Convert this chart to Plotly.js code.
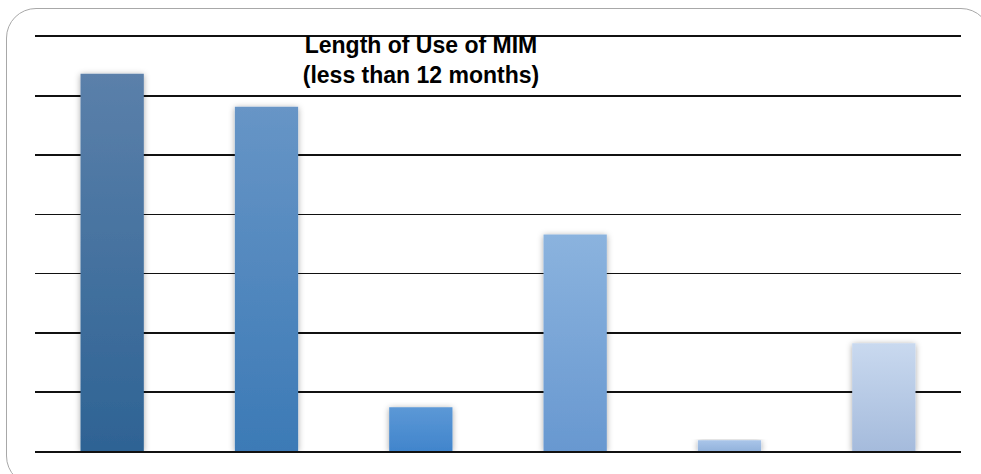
<!DOCTYPE html>
<html>
<head>
<meta charset="utf-8">
<script src="https://cdn.plot.ly/plotly-3.0.1.min.js"></script>
<style>
html,body{margin:0;padding:0;background:#fff;overflow:hidden;width:981px;height:474px;}
#frame{position:absolute;left:6px;top:8px;width:985px;height:478px;border:1.5px solid #a8a8a8;border-radius:30px;box-sizing:border-box;}
#chart{position:absolute;left:0;top:0;width:981px;height:474px;}
</style>
</head>
<body>
<div id="frame"></div>
<div id="chart"></div>
<script>
// Data (no axis labels are shown in the original)
const categories = ["Cat 1", "Cat 2", "Cat 3", "Cat 4", "Cat 5", "Cat 6"];
const values = [31.9, 29.1, 3.7, 18.3, 0.9, 9.1];
const topColors = ["#5b80aa", "#6795c6", "#5c98d6", "#8bb3de", "#a9c5e9", "#c9d9ef"];
const bottomColors = ["#2e6394", "#3c7ab6", "#4185cc", "#6898d0", "#93b3dc", "#a5bbdc"];
const midColors = ["#44709f", "#5187be", "#4e8ed1", "#79a5d7", "#9ebce2", "#b7cae5"];

const trace = {
  type: "bar",
  x: categories,
  y: values,
  marker: { color: midColors, line: { width: 0 } },
  hoverinfo: "x+y"
};

const layout = {
  width: 981,
  height: 474,
  margin: { l: 35, r: 20, t: 37, b: 23, pad: 0 },
  paper_bgcolor: "rgba(0,0,0,0)",
  plot_bgcolor: "rgba(0,0,0,0)",
  bargap: 0.59,
  showlegend: false,
  title: {
    text: "<b>Length of Use of MIM<br>(less than 12 months)</b>",
    font: { family: "Liberation Sans, Arial, sans-serif", size: 23, color: "#000" },
    xref: "container", yref: "container",
    x: 421 / 981, xanchor: "center",
    y: 1 - 53 / 474, yanchor: "middle"
  },
  xaxis: {
    showticklabels: false, ticks: "", showgrid: false, zeroline: false,
    showline: true, mirror: true, linecolor: "#111", linewidth: 1.6
  },
  yaxis: {
    range: [0, 35], dtick: 5, tick0: 0,
    showticklabels: false, ticks: "",
    showgrid: true, gridcolor: "#111", gridwidth: 1.6,
    zeroline: false,
    showline: false
  }
};

Plotly.newPlot("chart", [trace], layout, { displayModeBar: false, staticPlot: true }).then(function (gd) {
  const svg = gd.querySelector("svg.main-svg");
  const NS = "http://www.w3.org/2000/svg";
  let defs = svg.querySelector("defs");
  if (!defs) { defs = document.createElementNS(NS, "defs"); svg.insertBefore(defs, svg.firstChild); }
  const filt = document.createElementNS(NS, "filter");
  filt.setAttribute("id", "barshadow");
  filt.setAttribute("x", "-30%"); filt.setAttribute("y", "-10%");
  filt.setAttribute("width", "160%"); filt.setAttribute("height", "120%");
  const ds = document.createElementNS(NS, "feDropShadow");
  ds.setAttribute("dx", "0"); ds.setAttribute("dy", "1");
  ds.setAttribute("stdDeviation", "3"); ds.setAttribute("flood-color", "#000");
  ds.setAttribute("flood-opacity", "0.35");
  filt.appendChild(ds);
  defs.appendChild(filt);
  topColors.forEach(function (c, i) {
    const g = document.createElementNS(NS, "linearGradient");
    g.setAttribute("id", "bg" + i);
    g.setAttribute("x1", "0"); g.setAttribute("y1", "0");
    g.setAttribute("x2", "0"); g.setAttribute("y2", "1");
    const s1 = document.createElementNS(NS, "stop");
    s1.setAttribute("offset", "0"); s1.setAttribute("stop-color", c);
    const s2 = document.createElementNS(NS, "stop");
    s2.setAttribute("offset", "1"); s2.setAttribute("stop-color", bottomColors[i]);
    g.appendChild(s1); g.appendChild(s2);
    defs.appendChild(g);
  });
  const paths = gd.querySelectorAll(".bars .point path");
  paths.forEach(function (p, i) {
    p.style.fill = "url(#bg" + i + ")";
    p.style.filter = "url(#barshadow)";
  });
});
</script>
</body>
</html>
